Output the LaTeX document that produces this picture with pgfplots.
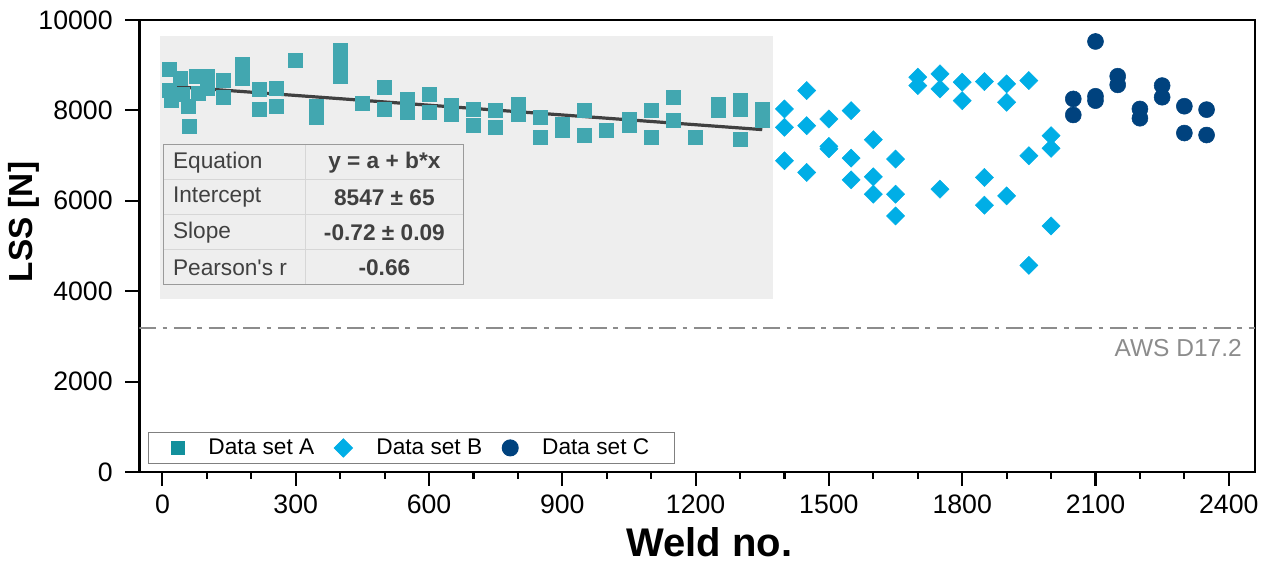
\documentclass[border=0pt]{standalone}
\usepackage{fontspec}
\setmainfont{Liberation Sans}
\usepackage{pgfplots}
\pgfplotsset{compat=1.18}

\definecolor{setA}{HTML}{42A7B0}
\definecolor{setAleg}{HTML}{12909C}
\definecolor{setB}{HTML}{00AEE6}
\definecolor{setC}{HTML}{00427E}
\definecolor{bgbox}{HTML}{EEEEEE}
\definecolor{fitline}{HTML}{404040}
\definecolor{awsgray}{HTML}{8C8C8C}
\definecolor{tblouter}{HTML}{9A9A9A}
\definecolor{tblinner}{HTML}{D6D6D6}
\definecolor{tbltext}{HTML}{404040}

\begin{document}
\begin{tikzpicture}
\begin{axis}[name=ax,
    scale only axis, width=836.8pt, height=339pt,
    xmin=-52, xmax=2459, ymin=0, ymax=10000,
    xtick={0,300,...,2400}, minor x tick num=2,
    ytick={0,2000,...,10000},
    scaled y ticks=false, scaled x ticks=false,
    tick align=outside, xtick pos=bottom, ytick pos=left,
    major tick length=10.5pt, minor tick length=5pt,
    axis line style={line width=2pt},
    every tick/.append style={black, line width=1.6pt},
    every minor tick/.append style={black, line width=1.6pt},
    tick label style={font=\fontsize{20}{20}\selectfont},
    yticklabel style={xshift=-6pt},
    xticklabel style={yshift=-3pt},
    /pgf/number format/assume math mode=true,
    /pgf/number format/1000 sep={},
    xlabel={Weld no.}, ylabel={LSS [N]},
    xlabel style={font=\fontsize{30}{30}\selectfont\bfseries,
        at={(axis description cs:0.511,-0.186)}, anchor=base},
    ylabel style={font=\fontsize{25}{25}\selectfont\bfseries,
        at={(axis description cs:-0.0953,0.553)}, anchor=base},
    legend columns=3,
    legend style={at={(0,0)}, anchor=south west, xshift=6.5pt, yshift=6pt,
        draw=gray, line width=0.75pt, font=\fontsize{17}{17}\selectfont,
        inner xsep=17pt, inner ysep=3pt,
        /tikz/every odd column/.append style={column sep=16pt},
        /tikz/every even column/.append style={column sep=13pt}},
    legend cell align=left,
]

% grey panel behind data set A
\addplot[draw=none, fill=bgbox, forget plot] coordinates {(-5,3838) (1374,3838) (1374,9652) (-5,9652)} -- cycle;

% AWS D17.2 limit
\addplot[awsgray, line width=1.5pt, dash pattern=on 12.5pt off 5pt on 3.5pt off 5pt, forget plot]
    coordinates {(-52,3190) (2459,3190)};
\node[anchor=east, inner sep=0pt, text=awsgray, font=\fontsize{18.4}{18.4}\selectfont] at (axis cs:2430,2751) {AWS D17.2};

% Data set A
\addplot[only marks, mark=square*, mark size=5.25pt, color=setA, forget plot] coordinates {
(15,8900) (15,8450) (20,8220) (40,8720) (45,8350) (58,8100) (60,7640) (77,8760) (80,8380)
(100,8750) (100,8500) (137,8660) (137,8300) (179,9030) (179,8720) (218,8470) (218,8020)
(257,8480) (257,8090) (299,9120) (347,8100) (347,7850) (400,9320) (400,9070) (400,8750)
(450,8160) (500,8510) (500,8030) (550,8254) (550,7958) (600,8365) (600,7958) (650,8105)
(650,7921) (700,8032) (700,7662) (750,7995) (750,7626) (800,8143) (800,7921) (850,7848)
(850,7404) (900,7700) (900,7551) (950,7995) (950,7440) (1000,7551) (1050,7810) (1050,7662)
(1100,7995) (1100,7404) (1150,8290) (1150,7773) (1200,7404) (1250,8143) (1250,7995)
(1300,8216) (1300,8032) (1300,7366) (1350,8032) (1350,7773)
};
\addlegendimage{only marks, mark=square*, mark size=5pt, color=setAleg}
\addlegendentry{Data set A}

% linear fit of A
\addplot[fitline, line width=2.4pt, forget plot] coordinates {(15,8536) (1350,7575)};

% Data set B
\addplot[only marks, mark=square*, mark size=4.8pt, mark options={rotate=45}, color=setB] coordinates {
(1400,8032) (1400,7626) (1400,6885) (1450,8438) (1450,7662) (1450,6627) (1500,7810) (1500,7204)
(1500,7150) (1550,7995) (1550,6945) (1550,6464) (1600,7351) (1600,6530) (1600,6146) (1650,6923)
(1650,6146) (1650,5665) (1700,8735) (1700,8549) (1750,8808) (1750,8476) (1750,6257) (1800,8624)
(1800,8216) (1850,8638) (1850,6516) (1850,5902) (1900,8587) (1900,8181) (1900,6109) (1950,8660)
(1950,6996) (1950,4571) (2000,7440) (2000,7160) (2000,5443)
};
\addlegendentry{Data set B}

% Data set C
\addplot[only marks, mark=*, mark size=6pt, color=setC] coordinates {
(2050,8254) (2050,7899) (2100,9525) (2100,8313) (2100,8216) (2150,8757) (2150,8565)
(2200,8032) (2200,7826) (2250,8549) (2250,8291) (2300,8092) (2300,7499) (2350,8017) (2350,7455)
};
\addlegendentry{Data set C}
\end{axis}

% fit table
\begin{scope}[shift={(ax.north west)}, xshift=17.8pt, yshift=-93.75pt,
    font=\fontsize{17}{17}\selectfont, text=tbltext]
\fill[bgbox] (0pt,0pt) rectangle (225pt,-105pt);
\foreach \r in {1,2,3} \draw[tblinner, line width=0.75pt] (0pt,-\r*26.25pt) -- (225pt,-\r*26.25pt);
\draw[tblinner, line width=0.75pt] (107pt,0pt) -- (107pt,-105pt);
\draw[tblouter, line width=0.75pt] (0pt,0pt) rectangle (225pt,-105pt);
\node[anchor=west, inner sep=0pt] at (7.3pt,-13.1pt) {Equation};
\node[anchor=west, inner sep=0pt] at (7.3pt,-39.4pt) {Intercept};
\node[anchor=west, inner sep=0pt] at (7.3pt,-65.6pt) {Slope};
\node[anchor=west, inner sep=0pt] at (7.3pt,-91.9pt) {Pearson\textquotesingle s r};
\node[inner sep=0pt, font=\fontsize{17}{17}\selectfont\bfseries] at (166pt,-13.1pt) {y = a + b*x};
\node[inner sep=0pt, font=\fontsize{17}{17}\selectfont\bfseries] at (166pt,-39.4pt) {8547 ± 65};
\node[inner sep=0pt, font=\fontsize{17}{17}\selectfont\bfseries] at (166pt,-65.6pt) {-0.72 ± 0.09};
\node[inner sep=0pt, font=\fontsize{17}{17}\selectfont\bfseries] at (166pt,-91.9pt) {-0.66};
\end{scope}

% page frame with the reference's margins
\path ([shift={(-104.5pt,-67.5pt)}]ax.south west) rectangle ([shift={(12.75pt,15pt)}]ax.north east);
\end{tikzpicture}
\end{document}
